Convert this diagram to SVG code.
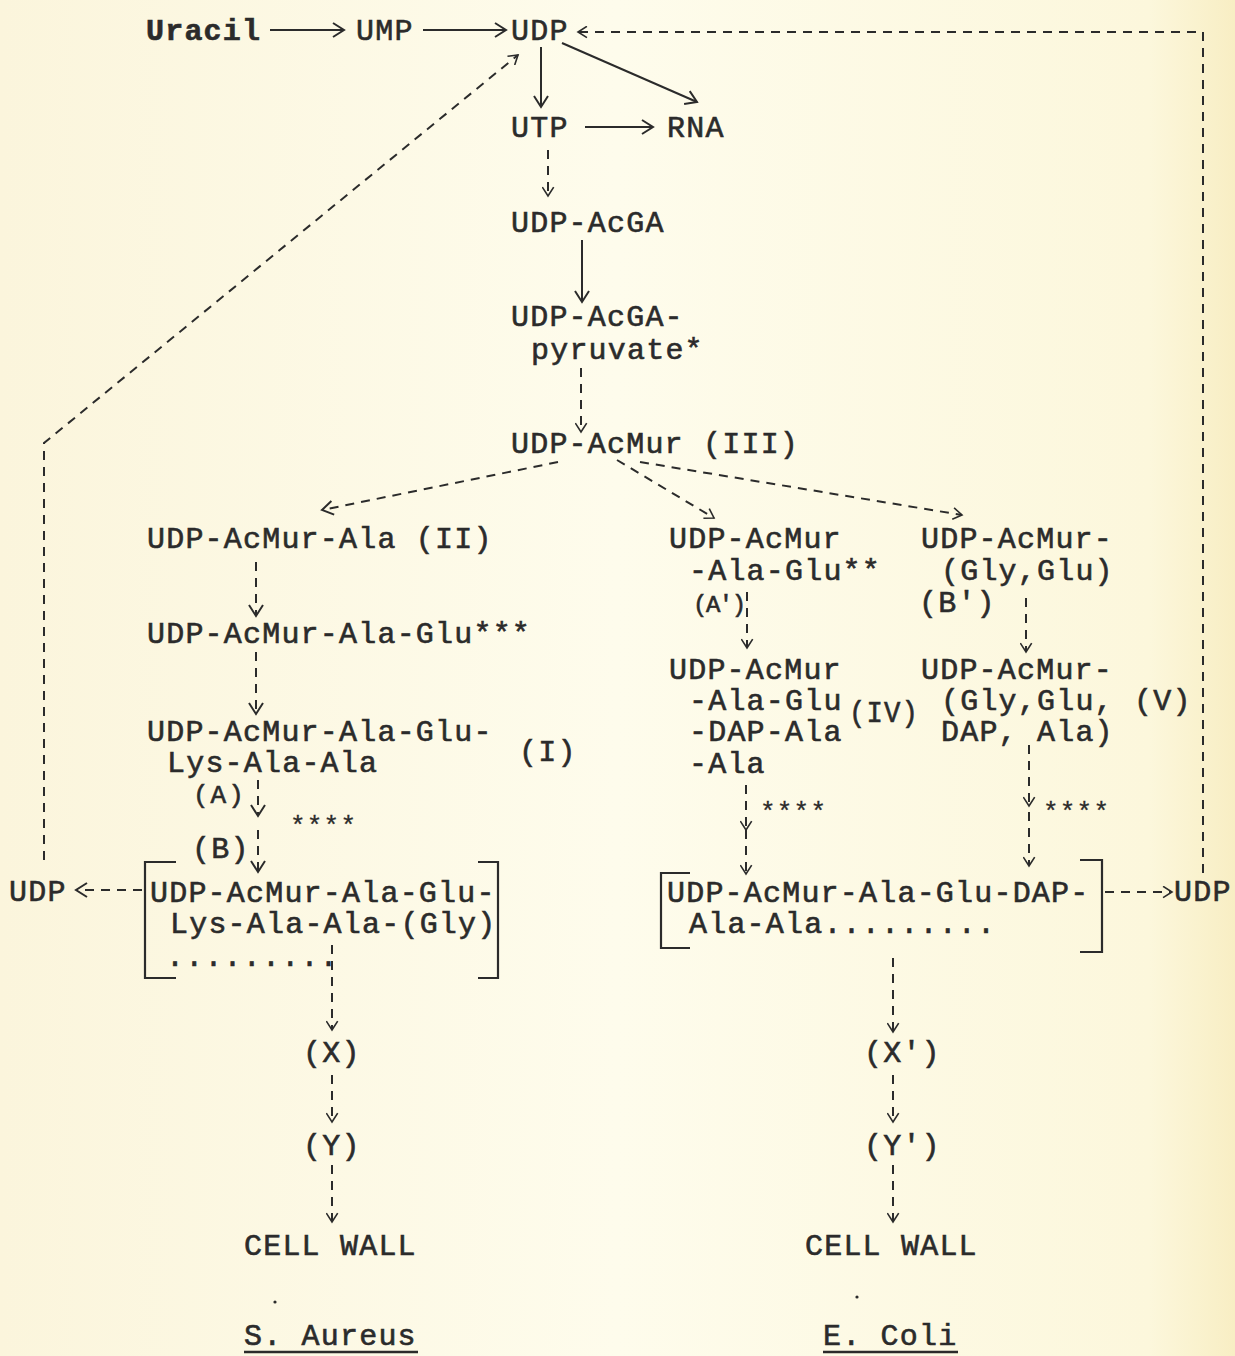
<svg xmlns="http://www.w3.org/2000/svg" width="1235" height="1356" viewBox="0 0 1235 1356">
<defs>
<linearGradient id="bg" x1="0" y1="0" x2="1" y2="0">
<stop offset="0" stop-color="#FBF5DC"/>
<stop offset="0.5" stop-color="#FEFCEC"/>
<stop offset="0.93" stop-color="#FCF7DC"/>
<stop offset="1" stop-color="#F8EEC4"/>
</linearGradient>
<marker id="ah" viewBox="0 0 16 16" markerWidth="16" markerHeight="16" refX="14" refY="8" orient="auto" markerUnits="userSpaceOnUse">
<path d="M3,1 L14,8 L3,15" fill="none" stroke="#2b2b2b" stroke-width="2"/>
</marker>
<marker id="ahs" viewBox="0 0 16 16" markerWidth="13" markerHeight="13" refX="14" refY="8" orient="auto" markerUnits="userSpaceOnUse">
<path d="M3,1 L14,8 L3,15" fill="none" stroke="#2b2b2b" stroke-width="2"/>
</marker>
</defs>
<style>
text{font-family:"Liberation Mono","Courier New",monospace;font-size:30px;letter-spacing:1.2px;fill:#2b2b2b;stroke:#2b2b2b;stroke-width:0.6}
.b{font-weight:bold}
.sm{font-size:26px;letter-spacing:2px}
.xs{font-size:24px;letter-spacing:-1.5px}
.st{font-size:26px;stroke-width:0.3}
.ln{fill:none;stroke:#2b2b2b;stroke-width:2}
.d{fill:none;stroke:#2b2b2b;stroke-width:2;stroke-dasharray:9,7}
.br{fill:none;stroke:#2b2b2b;stroke-width:2.2}
</style>
<rect width="1235" height="1356" fill="url(#bg)"/>

<g id="connectors">
<line class="ln" x1="270" y1="30" x2="344" y2="30" marker-end="url(#ah)"/>
<line class="ln" x1="423" y1="30" x2="506" y2="30" marker-end="url(#ah)"/>
<line class="ln" x1="541" y1="47" x2="541" y2="107" marker-end="url(#ah)"/>
<line class="ln" x1="562" y1="43" x2="697" y2="102" marker-end="url(#ah)"/>
<line class="ln" x1="585" y1="127" x2="653" y2="127" marker-end="url(#ah)"/>
<line class="ln" x1="582" y1="240" x2="582" y2="302" marker-end="url(#ah)"/>
<line class="d" x1="548" y1="150" x2="548" y2="196" marker-end="url(#ahs)"/>
<line class="d" x1="581" y1="368" x2="581" y2="432" marker-end="url(#ahs)"/>
<line class="d" x1="558" y1="462" x2="322" y2="510" marker-end="url(#ah)"/>
<line class="d" x1="617" y1="460" x2="714" y2="518" marker-end="url(#ahs)"/>
<line class="d" x1="640" y1="462" x2="962" y2="515" marker-end="url(#ahs)"/>
<line class="d" x1="256" y1="562" x2="256" y2="616" marker-end="url(#ah)"/>
<line class="d" x1="256" y1="652" x2="256" y2="714" marker-end="url(#ah)"/>
<line class="d" x1="258" y1="780" x2="258" y2="816" marker-end="url(#ah)"/>
<line class="d" x1="258" y1="830" x2="258" y2="872" marker-end="url(#ah)"/>
<line class="d" x1="332" y1="945" x2="332" y2="1030" marker-end="url(#ahs)"/>
<line class="d" x1="332" y1="1075" x2="332" y2="1122" marker-end="url(#ahs)"/>
<line class="d" x1="332" y1="1165" x2="332" y2="1222" marker-end="url(#ahs)"/>
<line class="d" x1="747" y1="592" x2="747" y2="648" marker-end="url(#ahs)"/>
<line class="d" x1="746" y1="785" x2="746" y2="830" marker-end="url(#ahs)"/>
<line class="d" x1="746" y1="830" x2="746" y2="874" marker-end="url(#ahs)"/>
<line class="d" x1="1026" y1="598" x2="1026" y2="652" marker-end="url(#ahs)"/>
<line class="d" x1="1029" y1="745" x2="1029" y2="806" marker-end="url(#ahs)"/>
<line class="d" x1="1029" y1="812" x2="1029" y2="866" marker-end="url(#ahs)"/>
<line class="d" x1="893" y1="958" x2="893" y2="1032" marker-end="url(#ahs)"/>
<line class="d" x1="893" y1="1075" x2="893" y2="1122" marker-end="url(#ahs)"/>
<line class="d" x1="893" y1="1165" x2="893" y2="1222" marker-end="url(#ahs)"/>
<line class="d" x1="142" y1="890" x2="76" y2="890" marker-end="url(#ah)"/>
<path class="d" d="M44,860 V443 L518,55" marker-end="url(#ahs)"/>
<line class="d" x1="1105" y1="892" x2="1172" y2="892" marker-end="url(#ahs)"/>
<path class="d" d="M1203,873 V32 H578" marker-end="url(#ahs)"/>
</g>

<g id="n-uracil"><text class="b" x="146" y="40">Uracil</text></g>
<g id="n-ump"><text x="356" y="40">UMP</text></g>
<g id="n-udp-top"><text x="511" y="40">UDP</text></g>
<g id="n-utp"><text x="511" y="137">UTP</text></g>
<g id="n-rna"><text x="667" y="137">RNA</text></g>
<g id="n-udp-acga"><text x="511" y="232">UDP-AcGA</text></g>
<g id="n-pyruvate"><text x="511" y="326">UDP-AcGA-</text><text x="531" y="359">pyruvate*</text></g>
<g id="n-acmur"><text x="511" y="453">UDP-AcMur (III)</text></g>

<g id="n-ala"><text x="147" y="548">UDP-AcMur-Ala (II)</text></g>
<g id="n-ala-glu"><text x="147" y="643">UDP-AcMur-Ala-Glu***</text></g>
<g id="n-lys"><text x="147" y="741">UDP-AcMur-Ala-Glu-</text><text x="167" y="772">Lys-Ala-Ala</text><text x="519" y="761">(I)</text></g>
<g id="lbl-a"><text class="sm" x="193" y="803">(A)</text></g>
<g id="lbl-star1"><text class="st" x="290" y="834">****</text></g>
<g id="lbl-b"><text x="192" y="858">(B)</text></g>
<g id="n-sa-wall">
<path class="br" d="M176,862 H145 V978 H176"/>
<path class="br" d="M478,862 H498 V978 H478"/>
<text x="150" y="902">UDP-AcMur-Ala-Glu-</text>
<text x="170" y="933">Lys-Ala-Ala-(Gly)</text>
<text x="166" y="966">.........</text>
</g>
<g id="n-udp-left"><text x="9" y="901">UDP</text></g>
<g id="n-x"><text x="303" y="1062">(X)</text></g>
<g id="n-y"><text x="303" y="1155">(Y)</text></g>
<g id="n-cw-left"><text x="244" y="1255">CELL WALL</text></g>
<g id="lbl-saureus"><circle cx="275" cy="1302" r="1.6" fill="#2b2b2b"/><text x="244" y="1345">S. Aureus</text><line x1="244" y1="1352" x2="418" y2="1352" stroke="#2b2b2b" stroke-width="2.5"/></g>

<g id="n-r1a"><text x="669" y="548">UDP-AcMur</text><text x="689" y="580">-Ala-Glu**</text></g>
<g id="lbl-a2"><text class="xs" x="693" y="612">(A')</text></g>
<g id="n-r1b"><text x="669" y="679">UDP-AcMur</text><text x="689" y="710">-Ala-Glu</text><text x="689" y="741">-DAP-Ala</text><text x="689" y="773">-Ala</text><text x="849" y="722" textLength="70" lengthAdjust="spacingAndGlyphs">(IV)</text></g>
<g id="lbl-star2"><text class="st" x="760" y="820">****</text></g>
<g id="n-r2a"><text x="921" y="548">UDP-AcMur-</text><text x="941" y="580">(Gly,Glu)</text></g>
<g id="lbl-b2"><text x="919" y="612">(B')</text></g>
<g id="n-r2b"><text x="921" y="679">UDP-AcMur-</text><text x="941" y="710">(Gly,Glu,</text><text x="941" y="741">DAP, Ala)</text><text x="1134" y="710">(V)</text></g>
<g id="lbl-star3"><text class="st" x="1043" y="820">****</text></g>
<g id="n-ec-wall">
<path class="br" d="M690,873 H661 V948 H690"/>
<path class="br" d="M1080,860 H1102 V952 H1080"/>
<text x="667" y="902">UDP-AcMur-Ala-Glu-DAP-</text>
<text x="689" y="933">Ala-Ala.........</text>
</g>
<g id="n-udp-right"><text x="1174" y="901">UDP</text></g>
<g id="n-x2"><text x="864" y="1062">(X')</text></g>
<g id="n-y2"><text x="864" y="1155">(Y')</text></g>
<g id="n-cw-right"><text x="805" y="1255">CELL WALL</text></g>
<g id="lbl-ecoli"><circle cx="857" cy="1297" r="1.6" fill="#2b2b2b"/><text x="823" y="1345">E. Coli</text><line x1="823" y1="1352" x2="958" y2="1352" stroke="#2b2b2b" stroke-width="2.5"/></g>
</svg>
